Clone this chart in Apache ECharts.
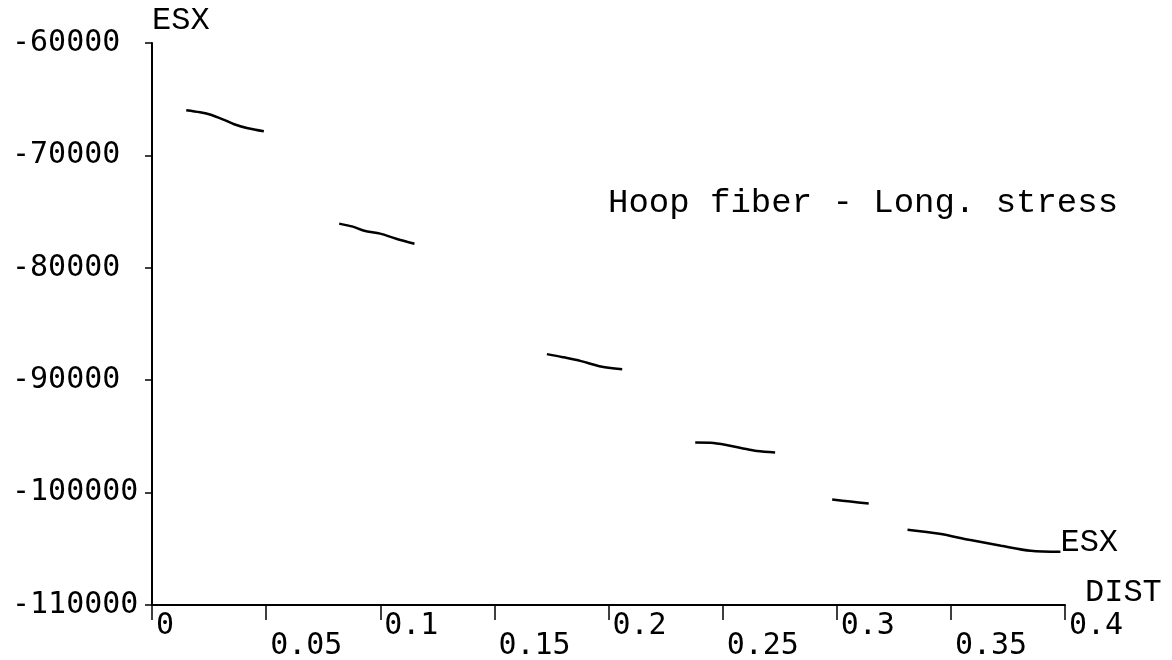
<!DOCTYPE html>
<html>
<head>
<meta charset="utf-8">
<script src="https://cdn.jsdelivr.net/npm/echarts@6/dist/echarts.min.js"></script>
<style>html,body{margin:0;padding:0;background:#fff}#c{width:1172px;height:660px}</style>
</head>
<body>
<div id="c"></div>
<script>
// Data (x = DIST, y = ESX)
const seg1 = [[0.015,-65980],[0.021,-66160],[0.025,-66340],[0.031,-66790],[0.036,-67230],[0.042,-67590],[0.049,-67860]];
const seg2 = [[0.082,-76070],[0.088,-76340],[0.093,-76700],[0.100,-76960],[0.107,-77410],[0.115,-77860]];
const seg3 = [[0.173,-87680],[0.180,-87950],[0.188,-88300],[0.196,-88750],[0.206,-89020]];
const seg4 = [[0.238,-95540],[0.246,-95580],[0.258,-96030],[0.265,-96300],[0.273,-96430]];
const seg5 = [[0.298,-100620],[0.306,-100800],[0.314,-100980]];
const seg6 = [[0.331,-103300],[0.345,-103660],[0.358,-104200],[0.372,-104730],[0.385,-105180],[0.398,-105270]];
const segments = [seg1, seg2, seg3, seg4, seg5, seg6];
const yTicks = {min:-110000, max:-60000, interval:10000};
const xTicks = {min:0, max:0.4, interval:0.05};
const seriesName = 'ESX';
const xName = 'DIST';
const titleText = 'Hoop fiber - Long. stress';

const data = [];
segments.forEach((s, i) => {
  s.forEach(p => data.push(p));
  if (i < segments.length - 1) data.push([null, null]);
});

const chart = echarts.init(document.getElementById('c'));
const mono = 'Liberation Mono';
const tickFont = 'DejaVu Sans Mono';
chart.setOption({
  animation: false,
  backgroundColor: '#fff',
  title: {
    text: titleText, left: 603, top: 181,
    textStyle: {fontFamily: mono, fontSize: 34, fontWeight: 'normal', color: '#000'}
  },
  grid: {left: 152, right: 107, top: 43, bottom: 55, containLabel: false, outerBoundsMode: 'none'},
  xAxis: {
    type: 'value', min: xTicks.min, max: xTicks.max, interval: xTicks.interval,
    name: xName, nameLocation: 'end', nameGap: 20,
    nameTextStyle: {fontFamily: mono, fontSize: 32, color: '#000', align: 'left', verticalAlign: 'bottom', padding: [0,0,-4,0]},
    axisLine: {show: true, onZero: false, lineStyle: {color: '#000', width: 2}},
    axisTick: {show: true, inside: false, length: 15, lineStyle: {color: '#000', width: 1.5}},
    splitLine: {show: false},
    axisLabel: {
      show: true, margin: 4, align: 'left', verticalAlign: 'top',
      showMinLabel: true, showMaxLabel: true,
      formatter: function (v, i) {
        const t = String(Math.round(v * 100) / 100);
        return (i % 2 === 0 ? '{u|' : '{d|') + t + '}';
      },
      rich: {
        u: {fontFamily: tickFont, fontSize: 30, color: '#000', padding: [2,0,0,4]},
        d: {fontFamily: tickFont, fontSize: 30, color: '#000', padding: [22,0,0,4]}
      }
    }
  },
  yAxis: {
    type: 'value', min: yTicks.min, max: yTicks.max, interval: yTicks.interval,
    name: seriesName, nameLocation: 'end', nameGap: 6,
    nameTextStyle: {fontFamily: mono, fontSize: 32, color: '#000', align: 'left', verticalAlign: 'bottom'},
    axisLine: {show: true, onZero: false, lineStyle: {color: '#000', width: 2}},
    axisTick: {show: true, inside: false, length: 7, lineStyle: {color: '#000', width: 1.5}},
    splitLine: {show: false},
    axisLabel: {
      show: true, margin: 140, align: 'left', verticalAlign: 'middle',
      fontFamily: tickFont, fontSize: 30, color: '#000',
      showMinLabel: true, showMaxLabel: true,
      formatter: function (v) { return String(v); }
    }
  },
  series: [{
    name: seriesName, type: 'line', data: data, connectNulls: false,
    smooth: 0.3, showSymbol: false, symbol: 'none',
    lineStyle: {color: '#000', width: 2.5},
    endLabel: {show: true, formatter: seriesName, fontFamily: mono, fontSize: 32, color: '#000', distance: 0, offset: [0, -9]}
  }]
});
</script>
</body>
</html>
